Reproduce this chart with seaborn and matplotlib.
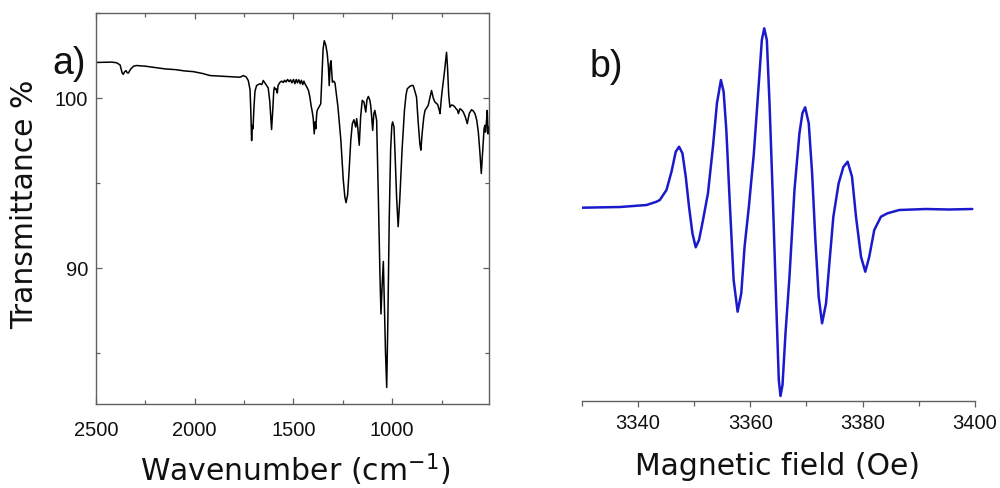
import numpy as np
import pandas as pd
import matplotlib
matplotlib.use("Agg")
import matplotlib.pyplot as plt
import seaborn as sns
from matplotlib.ticker import MultipleLocator, FixedLocator

# ---------------- data: (a) IR spectrum ----------------
ir_wavenumber = [2500, 2420, 2395, 2378, 2368, 2362, 2355, 2348, 2342, 2336, 2325, 2310,
                 2294, 2250, 2200, 2150, 2100, 2050, 2007, 1960, 1923, 1880, 1850, 1800,
                 1771, 1754, 1740, 1729, 1720, 1716, 1712, 1709, 1705, 1700, 1695, 1687,
                 1670, 1660, 1653, 1645, 1636, 1628, 1620, 1611, 1605, 1600, 1597, 1590,
                 1585, 1582, 1578, 1568, 1560, 1552, 1545, 1538, 1530, 1522, 1515, 1508,
                 1500, 1493, 1486, 1480, 1473, 1466, 1460, 1453, 1447, 1442, 1430, 1424,
                 1417, 1410, 1405, 1400, 1395, 1391, 1387, 1383, 1380, 1370, 1362, 1355,
                 1350, 1344, 1336, 1329, 1323, 1319, 1314, 1310, 1306, 1303, 1296, 1290,
                 1275, 1260, 1248, 1240, 1234, 1226, 1218, 1210, 1202, 1194, 1185, 1180,
                 1174, 1167, 1160, 1152, 1143, 1134, 1128, 1121, 1114, 1109, 1104, 1099,
                 1093, 1088, 1079, 1070, 1062, 1057, 1051, 1045, 1040, 1034, 1028, 1022,
                 1015, 1008, 1002, 998, 991, 985, 978, 970, 962, 950, 938, 930, 924, 910,
                 900, 894, 885, 877, 868, 860, 855, 848, 840, 834, 818, 808, 801, 792,
                 784, 770, 762, 758, 752, 747, 735, 728, 725, 720, 714, 708, 700, 691,
                 684, 677, 670, 665, 657, 648, 640, 630, 620, 610, 598, 590, 581, 572,
                 564, 556, 549, 544, 539, 535, 531, 528, 526, 523, 519, 517, 515, 513, 511]
ir_transmittance = [102.10, 102.12, 102.08, 101.95, 101.50, 101.40, 101.55, 101.62, 101.50, 101.48, 101.70, 101.88,
                    101.92, 101.88, 101.80, 101.72, 101.68, 101.60, 101.56, 101.45, 101.33, 101.30, 101.28, 101.24,
                    101.23, 101.33, 101.25, 101.04, 100.50, 99.20, 97.50, 98.40, 98.20, 99.50, 100.40, 100.74,
                    100.85, 100.80, 101.04, 100.90, 100.74, 100.60, 99.80, 98.15, 99.30, 100.40, 100.64, 100.50,
                    100.55, 100.30, 100.75, 100.94, 101.00, 100.92, 101.05, 100.95, 101.10, 100.97, 101.08, 100.90,
                    101.10, 100.85, 101.10, 100.90, 101.08, 100.85, 101.05, 100.80, 101.00, 100.85, 100.60, 100.45,
                    100.06, 99.50, 99.20, 98.80, 97.90, 98.60, 98.20, 99.00, 99.28, 99.50, 99.67, 101.50,
                    102.90, 103.38, 103.10, 102.60, 101.80, 100.74, 102.00, 102.20, 101.50, 100.94, 101.00, 100.90,
                    99.50, 97.50, 95.20, 94.20, 93.85, 94.30, 95.80, 97.50, 98.50, 98.73, 98.30, 98.79,
                    98.20, 97.23, 98.90, 99.87, 99.77, 99.18, 99.90, 100.10, 99.90, 99.57, 98.90, 98.10,
                    99.10, 99.28, 98.70, 94.00, 89.50, 87.30, 89.00, 90.39, 88.00, 85.00, 82.98, 87.00,
                    93.00, 97.00, 98.40, 98.60, 98.30, 96.50, 94.20, 92.44, 94.00, 97.00, 99.30, 100.20, 100.55, 100.70,
                    100.75, 100.74, 100.40, 100.06, 98.50, 97.30, 96.94, 98.00, 98.90, 99.28, 99.57, 100.10, 100.45, 100.00,
                    99.77, 99.63, 99.30, 99.09, 99.90, 100.45, 101.60, 102.40, 102.70, 101.80, 100.20, 99.47, 99.60, 99.57,
                    99.50, 99.38, 99.30, 99.09, 99.38, 99.30, 99.18, 98.90, 98.50, 99.10, 99.32, 99.25, 99.09, 98.70,
                    98.00, 96.80, 95.57, 96.50, 97.52, 98.20, 98.40, 98.00, 98.10, 98.60, 99.28, 98.70, 97.90, 98.30, 98.00]

ir_xticks = [2500, 2000, 1500, 1000]
ir_yticks = [90, 100]

# ---------------- data: (b) EPR spectrum ----------------
epr_field = [3330.00, 3336.80, 3341.54, 3343.31, 3343.90, 3345.09, 3345.98, 3346.74, 3347.33, 3347.93,
             3348.52, 3349.10, 3349.71, 3350.29, 3350.88, 3351.59, 3352.47, 3353.36, 3354.07, 3354.78,
             3355.26, 3355.74, 3356.33, 3357.04, 3357.75, 3358.40, 3358.99, 3359.75, 3360.64, 3361.48,
             3362.06, 3362.49, 3362.95, 3363.43, 3364.01, 3364.62, 3365.08, 3365.38, 3365.74, 3366.27,
             3366.98, 3367.87, 3368.75, 3369.29, 3369.77, 3370.41, 3371.01, 3371.59, 3372.18, 3372.78,
             3373.49, 3374.08, 3374.79, 3375.73, 3376.57, 3377.33, 3378.11, 3378.82, 3379.71, 3380.47,
             3381.18, 3382.07, 3383.26, 3384.43, 3386.51, 3391.25, 3395.38, 3399.52]
epr_signal = [0.3, 1.0, 3.0, 6.3, 8.0, 18.0, 36.3, 56.3, 61.3, 54.7,
              31.3, 1.3, -25.3, -39.3, -32.0, -12.0, 14.7, 61.3, 104.7, 128.0,
              116.3, 78.0, 8.0, -72.0, -103.7, -85.3, -38.7, 1.3, 54.7, 121.3,
              168.0, 179.7, 168.0, 104.7, 11.3, -95.3, -172.0, -188.0, -177.0, -125.3,
              -68.7, 18.0, 74.7, 95.0, 100.7, 84.7, 34.7, -32.0, -88.7, -115.3,
              -95.3, -55.3, -8.7, 24.7, 41.0, 46.3, 31.3, -8.7, -48.7, -63.7,
              -48.7, -22.0, -8.7, -5.3, -2.0, -1.0, -1.5, -1.0]
epr_xticks = [3340, 3360, 3380, 3400]

ir_df = pd.DataFrame({"wavenumber": ir_wavenumber, "T": ir_transmittance})
epr_df = pd.DataFrame({"field": epr_field, "signal": epr_signal})

# ---------------- figure ----------------
sns.set_theme(style="white")
plt.rcParams["font.family"] = ["DejaVu Sans"]
plt.rcParams["mathtext.fontset"] = "dejavusans"

fig = plt.figure(figsize=(10, 4.88), dpi=100)
ax1 = fig.add_axes([0.096, 0.172, 0.393, 0.801])
ax2 = fig.add_axes([0.5817, 0.1783, 0.3933, 0.795])

spine_col = "#606060"
tick_family = "Liberation Sans"
tick_size = 14.5

# ----- panel a -----
sns.lineplot(data=ir_df, x="wavenumber", y="T", ax=ax1, color="black", linewidth=1.1,
             sort=False, estimator=None)
ax1.set_xlim(2500, 510)
ax1.set_ylim(82, 105)
ax1.xaxis.set_major_locator(FixedLocator(ir_xticks))
ax1.xaxis.set_minor_locator(MultipleLocator(250))
ax1.yaxis.set_major_locator(FixedLocator(ir_yticks))
ax1.yaxis.set_minor_locator(MultipleLocator(5))
ax1.tick_params(which="both", direction="in", top=True, right=True, bottom=True, left=True,
                color=spine_col, width=0.9, labelsize=tick_size,
                labelfontfamily=tick_family, labelcolor="#111111")
ax1.tick_params(which="major", length=4.5)
ax1.tick_params(which="minor", length=3)
ax1.tick_params(axis="x", which="major", pad=12)
ax1.tick_params(axis="y", which="major", pad=5.5)
for s in ax1.spines.values():
    s.set_color(spine_col)
    s.set_linewidth(1.0)
ax1.set_xlabel("Wavenumber (cm$^{-1}$)", fontsize=21.5, color="#111111")
ax1.set_ylabel("Transmittance %", fontsize=21.5, color="#111111")
ax1.xaxis.label.set_va("center")
ax1.yaxis.label.set_va("center")
ax1.xaxis.set_label_coords(0.506, -0.169)
ax1.yaxis.set_label_coords(-0.181, 0.512)
ax1.text(-0.11, 0.845, "a)", transform=ax1.transAxes, fontsize=27,
         family="Liberation Sans", color="#111111", va="baseline", ha="left")

# ----- panel b -----
sns.lineplot(data=epr_df, x="field", y="signal", ax=ax2, color="#1a1acc", linewidth=1.8,
             sort=False, estimator=None)
ax2.set_xlim(3330, 3400)
ax2.set_ylim(-193, 195)
ax2.xaxis.set_major_locator(FixedLocator(epr_xticks))
ax2.xaxis.set_minor_locator(MultipleLocator(10))
ax2.set_yticks([])
for side in ["top", "right", "left"]:
    ax2.spines[side].set_visible(False)
ax2.spines["bottom"].set_color(spine_col)
ax2.spines["bottom"].set_linewidth(1.0)
ax2.tick_params(axis="x", which="both", direction="out", bottom=True, color=spine_col, width=0.9,
                labelsize=tick_size, labelfontfamily=tick_family, labelcolor="#111111")
ax2.tick_params(axis="x", which="major", length=4.5, pad=5)
ax2.tick_params(axis="x", which="minor", length=3.5)
ax2.set_xlabel("Magnetic field (Oe)", fontsize=21.5, color="#111111")
ax2.set_ylabel("")
ax2.xaxis.label.set_va("center")
ax2.xaxis.set_label_coords(0.499, -0.170)
ax2.text(0.02, 0.835, "b)", transform=ax2.transAxes, fontsize=27,
         family="Liberation Sans", color="#111111", va="baseline", ha="left")

fig.savefig("out.png", dpi=100, facecolor="white")
